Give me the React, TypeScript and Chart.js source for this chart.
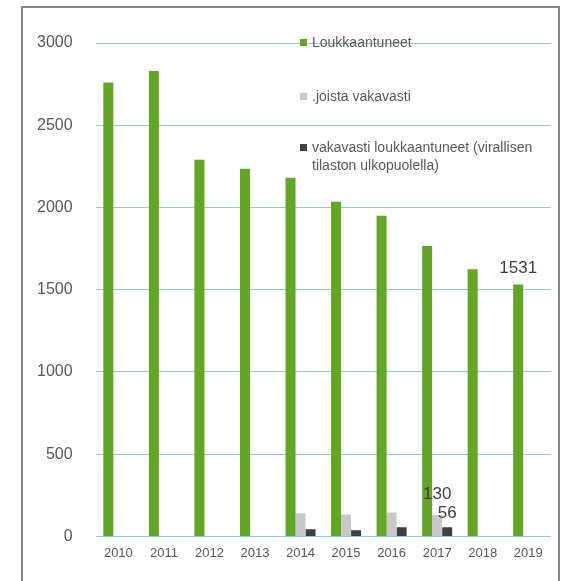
import React, { useEffect, useRef } from "react";
import { Chart, registerables } from "chart.js";

Chart.register(...registerables);

const years = ["2010", "2011", "2012", "2013", "2014", "2015", "2016", "2017", "2018", "2019"];
const injured = [2760, 2830, 2290, 2235, 2180, 2035, 1950, 1765, 1625, 1531];
const ofWhichSerious = [null, null, null, null, 140, 133, 146, 130, null, null];
const seriousOutsideStats = [null, null, null, null, 44, 37, 55, 56, null, null];
const seriesNames = [
  "Loukkaantuneet",
  ".joista vakavasti",
  "vakavasti loukkaantuneet (virallisen tilaston ulkopuolella)",
];
const yTickValues = [0, 500, 1000, 1500, 2000, 2500, 3000];
// [datasetIndex, categoryIndex] of the values that carry a number label
const labelledValues: [number, number][] = [
  [0, 9],
  [1, 7],
  [2, 7],
];

const FONT = "'Liberation Sans', Arial, sans-serif";
const TEXT = "#595959";

const insideLegend = {
  id: "insideLegend",
  afterDraw(chart: any) {
    const ctx = chart.ctx;
    const boxX = 278;
    const textX = 290;
    const rows = [27, 81, 132];
    const maxWidth = 240;
    const lineHeight = 18;
    ctx.save();
    ctx.font = `14px ${FONT}`;
    ctx.textBaseline = "middle";
    ctx.textAlign = "left";
    chart.data.datasets.forEach((ds: any, i: number) => {
      const words = String(ds.label).split(" ");
      const lines: string[] = [];
      let cur = "";
      words.forEach((w) => {
        const t = cur ? cur + " " + w : w;
        if (ctx.measureText(t).width > maxWidth && cur) {
          lines.push(cur);
          cur = w;
        } else cur = t;
      });
      if (cur) lines.push(cur);
      const y = rows[i];
      ctx.fillStyle = ds.backgroundColor;
      ctx.fillRect(boxX, y - 4, 7, 7);
      ctx.fillStyle = TEXT;
      lines.forEach((ln, k) => ctx.fillText(ln, textX, y + k * lineHeight));
    });
    ctx.restore();
  },
};

const valueLabels = {
  id: "valueLabels",
  afterDatasetsDraw(chart: any) {
    const ctx = chart.ctx;
    const offsets = [12, 16, 9];
    ctx.save();
    ctx.font = `17px ${FONT}`;
    ctx.fillStyle = "#404040";
    ctx.textAlign = "center";
    ctx.textBaseline = "alphabetic";
    labelledValues.forEach(([di, idx], k) => {
      const el = chart.getDatasetMeta(di).data[idx];
      const v = chart.data.datasets[di].data[idx];
      if (!el || v == null) return;
      ctx.fillText(String(v), el.x, el.y - offsets[k]);
    });
    ctx.restore();
  },
};

export default function App() {
  const ref = useRef<HTMLCanvasElement | null>(null);

  useEffect(() => {
    if (!ref.current) return;
    const chart = new Chart(ref.current, {
      type: "bar",
      data: {
        labels: years,
        datasets: [
          { label: seriesNames[0], data: injured, backgroundColor: "#62a527" },
          { label: seriesNames[1], data: ofWhichSerious as any, backgroundColor: "#c9c9c9" },
          { label: seriesNames[2], data: seriousOutsideStats as any, backgroundColor: "#404040" },
        ],
      },
      options: {
        animation: false,
        responsive: false,
        devicePixelRatio: 1,
        layout: { padding: { left: 15, right: 7, top: 27, bottom: 19 } },
        datasets: { bar: { categoryPercentage: 0.66, barPercentage: 1 } },
        plugins: {
          legend: { display: false },
          tooltip: { enabled: false },
        },
        scales: {
          x: {
            grid: { display: false },
            border: { display: false },
            ticks: { color: TEXT, font: { family: FONT, size: 13 }, padding: 1 },
          },
          y: {
            min: 0,
            max: 3000,
            afterBuildTicks: (axis: any) => {
              axis.ticks = yTickValues.map((v) => ({ value: v }));
            },
            afterFit: (axis: any) => {
              axis.paddingTop = 0;
              axis.paddingBottom = 0;
              axis.width -= 23;
            },
            grid: { color: "#96caea", lineWidth: 1, drawTicks: false },
            border: { display: false },
            ticks: {
              color: TEXT,
              font: { family: FONT, size: 16 },
              padding: 23,
              callback: (v: any) => String(v),
            },
          },
        },
      },
      plugins: [valueLabels, insideLegend],
    });
    return () => chart.destroy();
  }, []);

  return (
    <div
      style={{
        position: "fixed",
        left: 0,
        top: 0,
        width: 566,
        height: 581,
        overflow: "hidden",
        background: "#fff",
      }}
    >
      <div
        style={{
          position: "absolute",
          left: 21,
          top: 6,
          width: 535,
          height: 600,
          border: "2px solid #878787",
        }}
      />
      <canvas
        ref={ref}
        width={536}
        height={565}
        style={{ display: "block", position: "absolute", left: 22, top: 16 }}
      />
    </div>
  );
}
